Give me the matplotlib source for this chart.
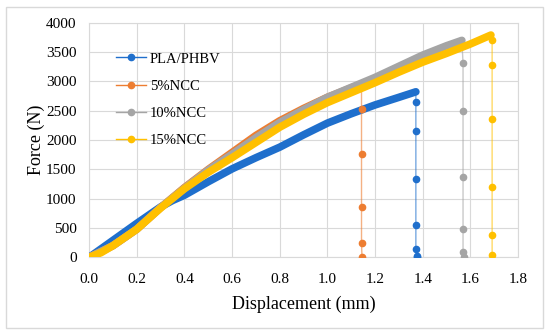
import numpy as np
import matplotlib
matplotlib.use("Agg")
from matplotlib import pyplot as plt
from matplotlib.patches import Rectangle

# loading curves (displacement mm, force N)
blue_x = [0.0, 0.1, 0.2, 0.3, 0.35, 0.4, 0.5, 0.6, 0.7, 0.8, 0.9, 1.0, 1.1, 1.2, 1.3, 1.371]
blue_y = [0, 290, 580, 860, 970, 1060, 1290, 1510, 1700, 1880, 2090, 2290, 2450, 2600, 2730, 2824]
orange_x = [0.0, 0.1, 0.2, 0.3, 0.4, 0.5, 0.6, 0.7, 0.8, 0.9, 1.0, 1.1, 1.143]
orange_y = [0, 200, 480, 850, 1190, 1500, 1790, 2080, 2330, 2540, 2730, 2890, 2950]
gray_x = [0.0, 0.1, 0.2, 0.3, 0.4, 0.5, 0.6, 0.7, 0.8, 0.9, 1.0, 1.1, 1.2, 1.3, 1.4, 1.5, 1.564]
gray_y = [0, 200, 480, 850, 1180, 1490, 1760, 2040, 2300, 2520, 2730, 2900, 3070, 3260, 3450, 3610, 3701]
yellow_x = [0.0, 0.05, 0.1, 0.2, 0.3, 0.4, 0.5, 0.6, 0.7, 0.8, 0.9, 1.0, 1.1, 1.2, 1.3, 1.4, 1.5, 1.6, 1.686]
yellow_y = [0, 80, 200, 480, 840, 1170, 1450, 1700, 1960, 2220, 2440, 2640, 2810, 2980, 3160, 3330, 3480, 3640, 3792]

# failure drop points
blue_drop_x = [1.371, 1.371, 1.371, 1.371, 1.371, 1.371, 1.374, 1.376]
blue_drop_y = [2824, 2655, 2156, 1333, 556, 148, 20, 0]
orange_drop_x = [1.143, 1.143, 1.143, 1.143, 1.143, 1.145]
orange_drop_y = [2950, 2530, 1764, 856, 238, 5]
gray_drop_x = [1.564, 1.569, 1.569, 1.569, 1.569, 1.569, 1.572]
gray_drop_y = [3701, 3313, 2490, 1367, 476, 85, 0]
yellow_drop_x = [1.686, 1.691, 1.691, 1.691, 1.691, 1.691, 1.691]
yellow_drop_y = [3792, 3700, 3280, 2360, 1208, 374, 40]

labels = ["PLA/PHBV", "5%NCC", "10%NCC", "15%NCC"]
colors = ["#1F6FCC", "#ED7D31", "#A5A5A5", "#FFC000"]

plt.rcParams['font.family'] = ['Liberation Serif', 'DejaVu Serif']

fig = plt.figure(figsize=(5.5, 3.36), dpi=100)
ax = fig.add_axes([0.162, 0.234, 0.780, 0.698])

curves = [(blue_x, blue_y, blue_drop_x, blue_drop_y),
          (orange_x, orange_y, orange_drop_x, orange_drop_y),
          (gray_x, gray_y, gray_drop_x, gray_drop_y),
          (yellow_x, yellow_y, yellow_drop_x, yellow_drop_y)]

for (cx, cy, dx, dy), lab, col in zip(curves, labels, colors):
    ax.plot(cx, cy, color=col, lw=5.5, solid_capstyle='round', solid_joinstyle='round', zorder=3)
    ax.plot(dx, dy, color=col, lw=1, alpha=0.6, zorder=3)
    ax.plot(dx[1:], dy[1:], 'o', color=col, ms=4.5, zorder=4)
    ax.plot([], [], '-o', color=col, lw=1, ms=4.5, label=lab)

ax.set_xlim(0, 1.8)
ax.set_ylim(0, 4000)
ax.set_xticks(np.arange(0, 1.81, 0.2))
ax.set_xticklabels([f"{v:.1f}" for v in np.arange(0, 1.81, 0.2)])
ax.set_yticks(np.arange(0, 4001, 500))
ax.grid(True, color="#D9D9D9", lw=0.8)
ax.set_axisbelow(True)
for s in ax.spines.values():
    s.set_color("#D9D9D9")
    s.set_linewidth(0.8)
ax.tick_params(length=0, labelsize=11)
ax.tick_params(axis='y', pad=9)
ax.tick_params(axis='x', pad=11)
ax.set_xlabel("Displacement (mm)", fontsize=13)
ax.set_ylabel("Force (N)", fontsize=13)
ax.xaxis.set_label_coords(0.5, -0.162)
ax.yaxis.set_label_coords(-0.103, 0.5)

ax.legend(loc='upper left', bbox_to_anchor=(0.033, 0.93), frameon=False, fontsize=10.5,
          handlelength=2.0, labelspacing=0.95, handletextpad=0.3)

fig.patches.append(Rectangle((6 / 550, 1 - 328 / 336), 537 / 550, 321 / 336,
                             transform=fig.transFigure, fill=False, edgecolor="#D9D9D9", lw=1))

fig.savefig("out.png", dpi=100)
